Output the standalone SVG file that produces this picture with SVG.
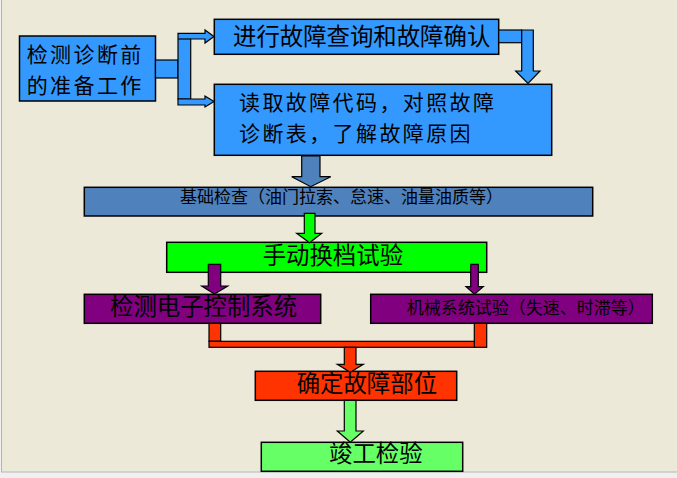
<svg xmlns="http://www.w3.org/2000/svg" width="677" height="478" viewBox="0 0 677 478">
<style>
.box{stroke:#000;stroke-width:1.5}
.con{stroke:#000;stroke-width:1.2;stroke-linejoin:miter}
text{font-family:"Noto Sans CJK SC","Noto Sans",sans-serif;fill:#000}
.big{font-size:23.4px}
.two{font-size:21px;letter-spacing:2.4px}
.small{font-size:17px}
</style>
<rect x="0" y="0" width="677" height="478" fill="#F0F0F0"/>
<rect x="1.5" y="0" width="675.5" height="471.5" fill="#ECE9D8"/>
<line x1="1.5" y1="0" x2="1.5" y2="472" stroke="#B4B4B4" stroke-width="1"/>
<line x1="1" y1="472" x2="677" y2="472" stroke="#B4B4B4" stroke-width="1"/>

<g id="node-prep">
<rect class="box" x="19.5" y="36" width="136" height="65" fill="#3399FF"/>
<text class="two" x="26.7" y="61.6">检测诊断前</text>
<text class="two" x="26.7" y="92.6">的准备工作</text>
</g>
<g id="node-query">
<rect class="box" x="214.3" y="19.3" width="284.4" height="35" fill="#3399FF"/>
<text class="big" x="233" y="45">进行故障查询和故障确认</text>
</g>
<g id="node-read">
<rect class="box" x="214.3" y="84.3" width="337.4" height="71" fill="#3399FF"/>
<text class="two" x="239" y="110.4">读取故障代码，对照故障</text>
<text class="two" x="239" y="141.4">诊断表，了解故障原因</text>
</g>
<g id="node-basic">
<rect class="box" x="84.3" y="187.3" width="508.4" height="28.7" fill="#4F81BD"/>
<text class="small" x="180" y="202.5">基础检查（油门拉索、怠速、油量油质等）</text>
</g>
<g id="node-manual">
<rect class="box" x="166.7" y="242.3" width="320" height="30" fill="#00FF00"/>
<text class="big" x="262.7" y="263.5">手动换档试验</text>
</g>
<g id="node-electronic">
<rect class="box" x="84.3" y="294.3" width="236.4" height="29" fill="#800080"/>
<text class="big" x="110" y="315">检测电子控制系统</text>
</g>
<g id="node-mechanical">
<rect class="box" x="370.7" y="294.3" width="281.6" height="29" fill="#800080"/>
<text class="small" x="406.7" y="313.5">机械系统试验（失速、时滞等）</text>
</g>
<g id="node-locate">
<rect class="box" x="255.3" y="371.3" width="201.4" height="29" fill="#FF3300"/>
<text class="big" x="296.7" y="392">确定故障部位</text>
</g>
<g id="node-final">
<rect class="box" x="261.3" y="442.3" width="201.4" height="29" fill="#66FF66"/>
<text class="big" x="329" y="461.5">竣工检验</text>
</g>

<g id="connectors">
<rect class="con" x="155.5" y="60" width="22.5" height="18" fill="#3399FF"/>
<polygon class="con" fill="#3399FF" points="178,33.3 205,33.3 205,30 214,36.5 205,43 205,39 190.7,39 190.7,99 178,99"/>
<polygon class="con" fill="#3399FF" points="178,99 205,99 205,96 214,101.5 205,107 205,105 178,105"/>
<line x1="178" y1="39" x2="190.7" y2="39" stroke="#000" stroke-width="1.2"/>
<rect class="con" x="498.7" y="30" width="23" height="12.7" fill="#3399FF"/>
<polygon class="con" fill="#3399FF" points="521.7,30 533.3,30 533.3,71 540,71 528,83.3 515.7,71 521.7,71"/>
<polygon class="con" fill="#4F81BD" points="301.7,156 320,156 320,176.7 330.7,176.7 310.7,186.7 291.7,176.7 301.7,176.7"/>
<polygon class="con" fill="#00FF00" points="304.3,213.3 315,213.3 315,233.3 321.7,233.3 309.5,242.7 296.7,233.3 304.3,233.3"/>
<polygon class="con" fill="#800080" points="208.3,264.3 220.7,264.3 220.7,286 227.7,286 214.5,294 201.7,286 208.3,286"/>
<polygon class="con" fill="#800080" points="470.7,264.3 478.3,264.3 478.3,286.7 483.3,286.7 474.5,294.3 466,286.7 470.7,286.7"/>
<rect class="con" x="209" y="323.3" width="11.7" height="18" fill="#FF3300"/>
<rect class="con" x="474.3" y="323.3" width="12.4" height="24" fill="#FF3300"/>
<rect class="con" x="209" y="341.3" width="265.3" height="6" fill="#FF3300"/>
<polygon class="con" fill="#FF3300" points="344.3,347.3 356,347.3 356,364.3 363.3,364.3 350.3,372.3 337.3,364.3 344.3,364.3"/>
<polygon class="con" fill="#66FF66" points="344.3,400.3 356,400.3 356,431 363.3,431 350.3,442.3 337.3,431 344.3,431"/>
</g>
</svg>
